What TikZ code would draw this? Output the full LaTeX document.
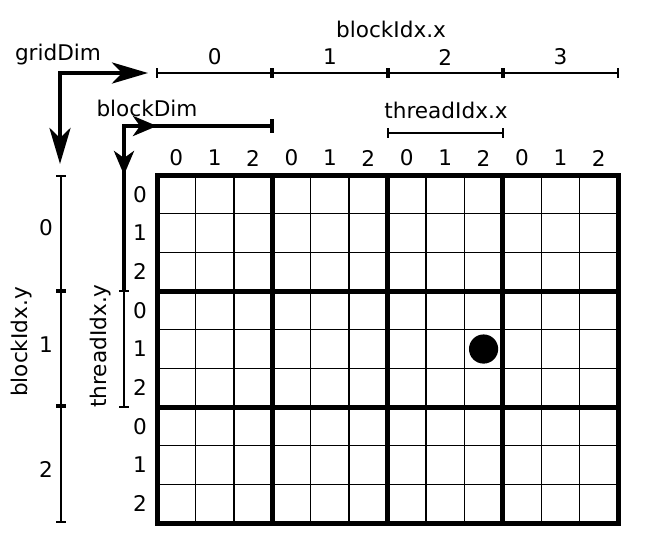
\documentclass[tikz,border=0pt]{standalone}
\usepackage{fontspec}
\setmainfont{DejaVu Sans}
\usetikzlibrary{arrows.meta,calc,positioning}

\tikzset{
  lbl/.style={font=\fontsize{10.8}{12}\selectfont, inner sep=0pt},
  thingrid/.style={line width=0.7pt},
  thickgrid/.style={line width=2.5pt},
  axis/.style={line width=1.1pt},
  bigtip/.style={line width=2.3pt, {Stealth[length=18pt,width=10.5pt,inset=5pt]}-{Stealth[length=18pt,width=10.5pt,inset=5pt]}},
  smalltip/.style={line width=2.1pt, -{Stealth[length=12pt,width=10pt,inset=3.5pt]}},
}

\begin{document}
\begin{tikzpicture}[x=0.5pt,y=-0.5pt]
\useasboundingbox (0,0) rectangle (656,536);

\def\cw{38.42}
\def\ch{38.67}

% the grid of threads
\coordinate (g0) at (157,175);
\coordinate (g1) at (618,523);
\foreach \i in {1,...,11}{\draw[thingrid] ($(g0)+(\i*\cw,0)$) -- ++(0,348);}
\foreach \j in {1,...,8}{\draw[thingrid] ($(g0)+(0,\j*\ch)$) -- ++(461,0);}
\foreach \i in {3,6,9}{\draw[thickgrid] ($(g0)+(\i*\cw,0)$) -- ++(0,348);}
\foreach \j in {3,6}{\draw[thickgrid] ($(g0)+(0,\j*\ch)$) -- ++(461,0);}
\draw[thickgrid] (g0) rectangle (g1);

\node[circle,fill,inner sep=0pt,minimum size=14.6pt] (thr) at ($(g0)+(8.5*\cw,4.5*\ch)$) {};

% thread indices
\foreach \i [evaluate=\i as \k using {int(mod(\i,3))}] in {0,...,11}
  {\node[lbl] (cx\i) at ($(g0)+({(\i+0.5)*\cw},-17)$) {\k};}
\foreach \j [evaluate=\j as \k using {int(mod(\j,3))}] in {0,...,8}
  {\node[lbl] (ry\j) at ($(g0)+(-17,{(\j+0.5)*\ch})$) {\k};}

% blockIdx.x
\foreach \i in {0,...,4}{\coordinate (bx\i) at ({157+\i*115.25},73);}
\draw[axis] (bx0) -- (bx4);
\foreach \i in {0,4}{\draw[axis] ($(bx\i)+(0,-5)$) -- ($(bx\i)+(0,5)$);}
\foreach \i in {1,2,3}{\draw[line width=2pt] ($(bx\i)+(0,-5)$) -- ($(bx\i)+(0,5)$);}
\foreach \i [evaluate=\i as \n using {int(\i+1)}] in {0,...,3}
  {\node[lbl] (bxl\i) at ($(bx\i)!0.5!(bx\n)+(0,-16)$) {\i};}
\node[lbl] (bxt) at (391,29) {blockIdx.x};

% blockIdx.y
\foreach \j in {0,...,3}{\coordinate (by\j) at (61,{176+\j*115.2});}
\draw[axis] (by0) -- (by3);
\foreach \j in {0,3}{\draw[axis] ($(by\j)+(-5,0)$) -- ($(by\j)+(5,0)$);}
\foreach \j in {1,2}{\draw[line width=2pt] ($(by\j)+(-5,0)$) -- ($(by\j)+(5,0)$);}
\foreach \j/\y in {0/228,1/345,2/469}
  {\node[lbl] (byl\j) at (46,\y) {\j};}
\node[lbl,rotate=90] (byt) at (22,342) {blockIdx.y};

% gridDim
\coordinate (gd) at (60,73);
\draw[bigtip] (60,164) -- (gd) -- ($(bx0)+(-9,0)$);
\node[lbl] (gdt) at (58,55) {gridDim};

% blockDim
\coordinate (bd) at (124,126);
\coordinate (bd1) at (272,126);
\coordinate (ty0) at (124,291);
\coordinate (ty1) at (124,407);
\draw[line width=2.1pt] (ty0) -- (bd) -- (bd1);
\draw[line width=1.6pt] ($(bd1)+(0,-7)$) -- ($(bd1)+(0,7)$);
\draw[smalltip] (bd) -- (157,126);
\draw[smalltip] (bd) -- (124,175);
\node[lbl] (bdt) at (147,108) {blockDim};

% threadIdx.y
\draw[axis] (ty0) -- (ty1);
\foreach \c in {ty0,ty1}{\draw[axis] ($(\c)+(-5,0)$) -- ($(\c)+(5,0)$);}
\node[lbl,rotate=90] (tyt) at (101,346) {threadIdx.y};

% threadIdx.x
\coordinate (tx0) at (388,133);
\coordinate (tx1) at (503,133);
\draw[axis] (tx0) -- (tx1);
\foreach \c in {tx0,tx1}{\draw[axis] ($(\c)+(0,-5)$) -- ($(\c)+(0,5)$);}
\node[lbl] (txt) at (446,110) {threadIdx.x};
\end{tikzpicture}
\end{document}
